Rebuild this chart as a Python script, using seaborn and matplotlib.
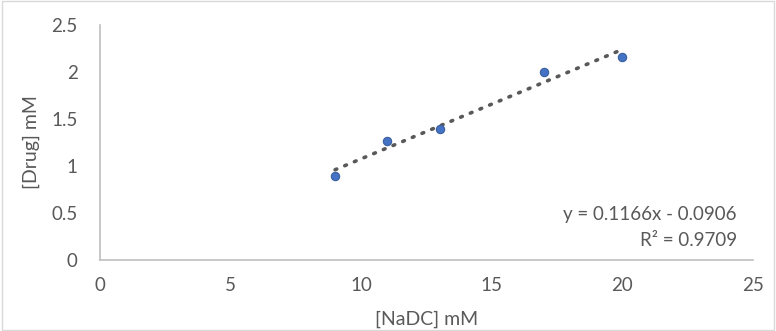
import matplotlib
matplotlib.use("Agg")
import matplotlib.pyplot as plt
from matplotlib.patches import Rectangle
from matplotlib.ticker import FuncFormatter
import numpy as np
import pandas as pd
import seaborn as sns

# data
nadc = [9, 11, 13, 17, 20]
drug = [0.89, 1.27, 1.39, 2.0, 2.16]
eq_text = "y = 0.1166x - 0.0906"
r2_text = "R\u00b2 = 0.9709"

df = pd.DataFrame({"NaDC": nadc, "Drug": drug})

sns.set_theme(style="white")
plt.rcParams["font.family"] = ["Lato", "DejaVu Sans"]

grey_txt = "#595959"
grey_line = "#bfbfbf"

fig, ax = plt.subplots(figsize=(7.76, 3.31), dpi=100)
fig.subplots_adjust(left=100/776, right=753/776, bottom=71/331, top=306/331)

sns.regplot(data=df, x="NaDC", y="Drug", ax=ax, ci=None, truncate=True,
            scatter_kws=dict(s=36, color="#4472c4", edgecolor="#3a5f9e",
                             linewidths=0.8, zorder=3, alpha=1),
            line_kws=dict(color=grey_txt, linestyle=(0, (0.5, 2.4)),
                          linewidth=2.6, dash_capstyle="round", zorder=2))

ax.set_xlim(0, 25)
ax.set_ylim(0, 2.5)
ax.set_xticks([0, 5, 10, 15, 20, 25])
ax.set_yticks([0, 0.5, 1, 1.5, 2, 2.5])
fmt = FuncFormatter(lambda v, p: f"{v:g}")
ax.xaxis.set_major_formatter(fmt)
ax.yaxis.set_major_formatter(fmt)
ax.tick_params(axis="both", length=0, labelsize=13.5, colors=grey_txt, pad=12)
ax.tick_params(axis="y", pad=16)

for side in ["top", "right"]:
    ax.spines[side].set_visible(False)
for side in ["left", "bottom"]:
    ax.spines[side].set_color(grey_line)
    ax.spines[side].set_linewidth(1.2)

ax.set_xlabel("[NaDC] mM", fontsize=14, color=grey_txt, labelpad=12)
ax.set_ylabel("[Drug] mM", fontsize=14, color=grey_txt, labelpad=8)

ax.text(0.975, 0.195, eq_text, transform=ax.transAxes, ha="right", va="center",
        fontsize=13.5, color=grey_txt)
ax.text(0.975, 0.085, r2_text, transform=ax.transAxes, ha="right", va="center",
        fontsize=13.5, color=grey_txt)

fig.patches.append(Rectangle((0.003, 0.004), 0.994, 0.992, transform=fig.transFigure,
                             fill=False, edgecolor="#d9d9d9", linewidth=1))

fig.savefig("out.png", dpi=100)
